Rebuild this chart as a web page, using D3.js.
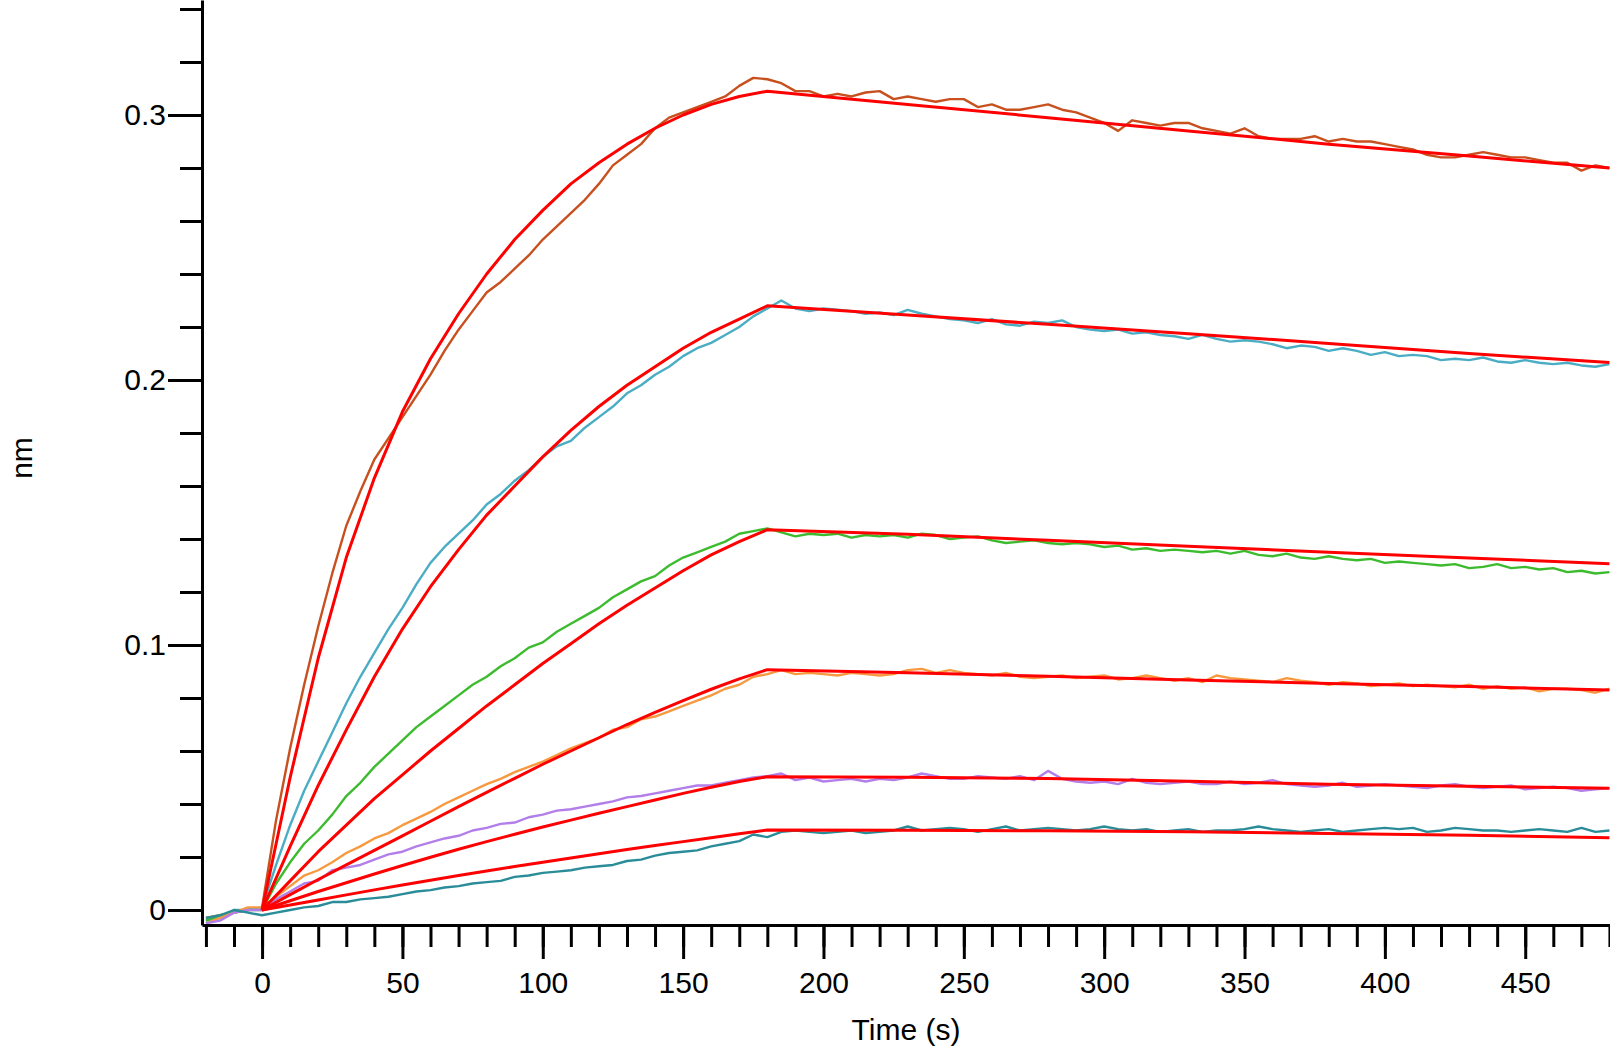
<!DOCTYPE html>
<html>
<head>
<meta charset="utf-8">
<script src="https://cdn.jsdelivr.net/npm/d3@7"></script>
<style>
  body { margin: 0; background: #fff; }
  svg { display: block; }
</style>
</head>
<body>
<div id="chart"></div>
<script>
// ============================================================
// DATA — sensorgram traces (nm) and 1:1 fits
// ============================================================
const dataTime = d3.range(-20, 481, 5);   // sampling times (s) for the raw traces
const fitTime = [0, 10, 20, 30, 40, 50, 60, 70, 80, 90, 100, 110, 120, 130, 140, 150, 160, 170, 180,
                 230, 280, 330, 380, 430, 480];

const xMajorTicks = [0, 50, 100, 150, 200, 250, 300, 350, 400, 450];
const yMajorTicks = [0, 0.1, 0.2, 0.3];

const seriesColors = ['#C8501E', '#4AADC4', '#3DBB2F', '#F7993F', '#B27EE9', '#2A8C98'];
const fitColor = '#FF0000';

const traceA = [-0.003, -0.002, -0.001, 0.000,
  0.001, 0.034, 0.061, 0.085, 0.107, 0.127, 0.145, 0.158, 0.170, 0.178,
  0.186, 0.194, 0.202, 0.211, 0.219, 0.226, 0.233, 0.237, 0.242, 0.247,
  0.253, 0.258, 0.263, 0.268, 0.274, 0.281, 0.285, 0.289, 0.295, 0.299,
  0.301, 0.303, 0.305, 0.307, 0.311, 0.314, 0.3135,
  0.312, 0.309, 0.309, 0.307, 0.308, 0.307, 0.3085, 0.309, 0.306, 0.307,
  0.306, 0.305, 0.306, 0.306, 0.303, 0.304, 0.302, 0.302, 0.303, 0.304,
  0.302, 0.301, 0.299, 0.297, 0.294, 0.298, 0.297, 0.296, 0.297, 0.297,
  0.295, 0.294, 0.293, 0.295, 0.292, 0.291, 0.291, 0.291, 0.292, 0.290,
  0.291, 0.290, 0.290, 0.289, 0.288, 0.287, 0.285, 0.284, 0.284, 0.285,
  0.286, 0.285, 0.284, 0.284, 0.283, 0.282, 0.282, 0.279, 0.281, 0.280];

const traceB = [-0.004, -0.003, 0.000, 0.000,
  0.001, 0.017, 0.032, 0.045, 0.056, 0.067, 0.078, 0.088, 0.097, 0.106,
  0.114, 0.123, 0.131, 0.137, 0.142, 0.147, 0.153, 0.157, 0.162, 0.166,
  0.171, 0.175, 0.177, 0.182, 0.186, 0.190, 0.195, 0.198, 0.202, 0.205,
  0.209, 0.212, 0.214, 0.217, 0.220, 0.224, 0.227,
  0.230, 0.227, 0.226, 0.227, 0.2265, 0.226, 0.225, 0.2255, 0.2245, 0.2265,
  0.225, 0.224, 0.223, 0.2225, 0.2215, 0.223, 0.221, 0.2205, 0.222, 0.2215,
  0.2225, 0.220, 0.219, 0.2185, 0.219, 0.2175, 0.218, 0.217, 0.2165, 0.2155,
  0.217, 0.2155, 0.2145, 0.215, 0.2145, 0.2135, 0.212, 0.213, 0.2125, 0.211,
  0.212, 0.211, 0.2095, 0.2105, 0.209, 0.2095, 0.209, 0.2075, 0.208, 0.2075,
  0.2085, 0.207, 0.2065, 0.2075, 0.2065, 0.206, 0.2065, 0.2055, 0.205, 0.206];

const traceC = [-0.004, -0.002, -0.001, 0.000,
  0.000, 0.010, 0.018, 0.025, 0.030, 0.036, 0.043, 0.048, 0.054, 0.059,
  0.064, 0.069, 0.073, 0.077, 0.081, 0.085, 0.088, 0.092, 0.095, 0.099,
  0.101, 0.105, 0.108, 0.111, 0.114, 0.118, 0.121, 0.124, 0.126, 0.130,
  0.133, 0.135, 0.137, 0.139, 0.142, 0.143, 0.144,
  0.1425, 0.141, 0.142, 0.1415, 0.142, 0.1405, 0.1415, 0.141, 0.1415, 0.1405,
  0.142, 0.1415, 0.140, 0.1405, 0.141, 0.1395, 0.1385, 0.139, 0.1395, 0.1385,
  0.138, 0.1385, 0.138, 0.137, 0.1375, 0.136, 0.1365, 0.1355, 0.136, 0.1355,
  0.135, 0.1355, 0.1345, 0.1355, 0.134, 0.1335, 0.1345, 0.133, 0.1325, 0.1335,
  0.1325, 0.132, 0.1325, 0.131, 0.1315, 0.131, 0.1305, 0.130, 0.1305, 0.129,
  0.1295, 0.1305, 0.129, 0.1295, 0.1285, 0.129, 0.1275, 0.128, 0.127, 0.1275];

const traceD = [-0.005, -0.003, -0.001, 0.001,
  0.001, 0.005, 0.009, 0.013, 0.015, 0.018, 0.0215, 0.024, 0.027, 0.029,
  0.032, 0.0345, 0.037, 0.040, 0.0425, 0.045, 0.0475, 0.0495, 0.052, 0.054,
  0.056, 0.0585, 0.061, 0.063, 0.065, 0.068, 0.069, 0.072, 0.073, 0.075,
  0.077, 0.079, 0.081, 0.0835, 0.085, 0.088, 0.089,
  0.0905, 0.089, 0.0895, 0.089, 0.0885, 0.0895, 0.089, 0.0885, 0.089, 0.0905,
  0.091, 0.0895, 0.0905, 0.0895, 0.089, 0.0885, 0.0895, 0.088, 0.0875, 0.088,
  0.0885, 0.0875, 0.088, 0.0885, 0.087, 0.0875, 0.0885, 0.0875, 0.0865, 0.0875,
  0.086, 0.0885, 0.0875, 0.087, 0.0865, 0.086, 0.0875, 0.0865, 0.086, 0.085,
  0.086, 0.0855, 0.0845, 0.085, 0.0855, 0.0845, 0.085, 0.0845, 0.084, 0.085,
  0.0835, 0.0845, 0.0835, 0.084, 0.0825, 0.0835, 0.0835, 0.083, 0.082, 0.0835];

const traceE = [-0.005, -0.004, -0.001, 0.000,
  0.000, 0.004, 0.007, 0.010, 0.011, 0.015, 0.016, 0.017, 0.019, 0.021,
  0.022, 0.024, 0.0255, 0.027, 0.028, 0.030, 0.031, 0.0325, 0.033, 0.035,
  0.036, 0.0375, 0.038, 0.039, 0.040, 0.041, 0.0425, 0.043, 0.044, 0.045,
  0.046, 0.047, 0.047, 0.048, 0.049, 0.050, 0.0505,
  0.0515, 0.049, 0.050, 0.0485, 0.049, 0.0495, 0.0485, 0.0495, 0.049, 0.050,
  0.0515, 0.0505, 0.0495, 0.0495, 0.0505, 0.050, 0.0495, 0.0505, 0.049, 0.0525,
  0.0495, 0.0485, 0.048, 0.0485, 0.0475, 0.0495, 0.048, 0.0475, 0.048, 0.0485,
  0.0475, 0.0475, 0.0485, 0.0475, 0.048, 0.049, 0.0475, 0.047, 0.0465, 0.047,
  0.048, 0.0465, 0.047, 0.0475, 0.047, 0.0465, 0.046, 0.047, 0.0475, 0.0465,
  0.046, 0.0465, 0.047, 0.0455, 0.046, 0.0465, 0.046, 0.045, 0.0455, 0.046];

const traceF = [-0.003, -0.002, 0.000, -0.001,
  -0.002, -0.001, 0.000, 0.001, 0.0015, 0.003, 0.003, 0.004, 0.0045, 0.005,
  0.006, 0.007, 0.0075, 0.0085, 0.009, 0.010, 0.0105, 0.011, 0.0125, 0.013,
  0.014, 0.0145, 0.015, 0.016, 0.0165, 0.017, 0.0185, 0.019, 0.0205, 0.0215,
  0.022, 0.0225, 0.024, 0.025, 0.026, 0.0285, 0.0275,
  0.0295, 0.030, 0.0295, 0.029, 0.0295, 0.030, 0.029, 0.0295, 0.030, 0.0315,
  0.030, 0.0305, 0.031, 0.0305, 0.0295, 0.0305, 0.0315, 0.030, 0.0305, 0.031,
  0.0305, 0.030, 0.0305, 0.0315, 0.0305, 0.030, 0.0305, 0.0295, 0.030, 0.0305,
  0.0295, 0.030, 0.030, 0.0305, 0.0315, 0.0305, 0.030, 0.0295, 0.030, 0.0305,
  0.0295, 0.030, 0.0305, 0.031, 0.0305, 0.031, 0.0295, 0.030, 0.031, 0.0305,
  0.030, 0.030, 0.0295, 0.030, 0.0305, 0.030, 0.0295, 0.031, 0.0295, 0.030];

const fitA = [0, 0.050, 0.095, 0.133, 0.163, 0.188, 0.208, 0.225, 0.240, 0.253, 0.264, 0.274, 0.282,
  0.289, 0.295, 0.300, 0.304, 0.307, 0.309, 0.304, 0.299, 0.294, 0.289, 0.2845, 0.280];
const fitB = [0, 0.024, 0.047, 0.068, 0.088, 0.106, 0.122, 0.136, 0.149, 0.160, 0.171, 0.181, 0.190,
  0.198, 0.205, 0.212, 0.218, 0.223, 0.228, 0.2245, 0.221, 0.2175, 0.2138, 0.210, 0.2066];
const fitC = [0, 0.011, 0.022, 0.032, 0.042, 0.051, 0.060, 0.0685, 0.077, 0.085, 0.093, 0.1005, 0.108,
  0.115, 0.1215, 0.128, 0.134, 0.139, 0.1435, 0.1418, 0.1395, 0.1373, 0.135, 0.1328, 0.1307];
const fitD = [0, 0.0058, 0.0115, 0.017, 0.0225, 0.028, 0.0335, 0.039, 0.0444, 0.0497, 0.055, 0.060, 0.065,
  0.070, 0.0746, 0.079, 0.0833, 0.0872, 0.0907, 0.0895, 0.0882, 0.0868, 0.0855, 0.0843, 0.083];
const fitE = [0, 0.0035, 0.007, 0.0103, 0.0136, 0.0168, 0.0199, 0.0229, 0.0258, 0.0286, 0.0313, 0.0339, 0.0365,
  0.039, 0.0415, 0.044, 0.0463, 0.0485, 0.0503, 0.0501, 0.0496, 0.0486, 0.0475, 0.0467, 0.0459];
const fitF = [0, 0.0019, 0.0038, 0.0057, 0.0076, 0.0094, 0.0112, 0.013, 0.0147, 0.0164, 0.018, 0.0196, 0.0212,
  0.0228, 0.0243, 0.0258, 0.0273, 0.0288, 0.0302, 0.0301, 0.0299, 0.0295, 0.0289, 0.0282, 0.0273];

const traces = [traceA, traceB, traceC, traceD, traceE, traceF];
const fits = [fitA, fitB, fitC, fitD, fitE, fitF];

// ============================================================
// CHART
// ============================================================
const svgW = 1610, svgH = 1050;
const plot = { left: 202, right: 1610, top: 0, bottom: 925 };
const font = 'Arial, "Liberation Sans", sans-serif';

const svg = d3.select('#chart').append('svg')
  .attr('width', svgW).attr('height', svgH);

const xScale = d3.scaleLinear()
  .domain([-21.4, 480.2])
  .range([plot.left, plot.right]);

const yScale = d3.scaleLinear()
  .domain([-0.00566, 0.3434])
  .range([plot.bottom, plot.top]);

svg.append('clipPath').attr('id', 'plot-clip')
  .append('rect')
  .attr('x', plot.left).attr('y', plot.top)
  .attr('width', plot.right - plot.left).attr('height', plot.bottom - plot.top);

// ---- RAW TRACES ----
const traceLine = d3.line()
  .x((d, i) => xScale(dataTime[i]))
  .y(d => yScale(d));

svg.append('g').attr('clip-path', 'url(#plot-clip)')
  .selectAll('path').data(traces).join('path')
  .attr('d', traceLine)
  .attr('fill', 'none')
  .attr('stroke', (d, i) => seriesColors[i])
  .attr('stroke-width', 2.4)
  .attr('stroke-linejoin', 'round');

// ---- FIT CURVES (red, on top) ----
const fitLine = d3.line()
  .x((d, i) => xScale(fitTime[i]))
  .y(d => yScale(d));

svg.append('g').attr('clip-path', 'url(#plot-clip)')
  .selectAll('path').data(fits).join('path')
  .attr('d', fitLine)
  .attr('fill', 'none')
  .attr('stroke', fitColor)
  .attr('stroke-width', 3)
  .attr('stroke-linejoin', 'round');

// ---- AXES ----
function styleAxis(g) {
  g.selectAll('line').attr('stroke', '#000').attr('stroke-width', 3);
  g.selectAll('path.domain').attr('stroke', '#000').attr('stroke-width', 3);
  g.selectAll('text')
    .style('font-family', font)
    .style('font-size', '30px')
    .attr('fill', '#000');
}

// x minor ticks every 10 s
svg.append('g')
  .attr('transform', `translate(0, ${plot.bottom})`)
  .call(d3.axisBottom(xScale).tickValues(d3.range(-20, 481, 10)).tickSize(22).tickFormat(''))
  .call(g => g.select('.domain').remove())
  .call(styleAxis);

// x major ticks + labels
svg.append('g')
  .attr('transform', `translate(0, ${plot.bottom})`)
  .call(d3.axisBottom(xScale).tickValues(xMajorTicks).tickSize(34).tickSizeOuter(0).tickPadding(13)
    .tickFormat(d3.format('d')))
  .call(styleAxis);

// y minor ticks every 0.02 nm
svg.append('g')
  .attr('transform', `translate(${plot.left}, 0)`)
  .call(d3.axisLeft(yScale).tickValues(d3.range(0, 0.345, 0.02)).tickSize(22).tickFormat(''))
  .call(g => g.select('.domain').remove())
  .call(styleAxis);

// y major ticks + labels
svg.append('g')
  .attr('transform', `translate(${plot.left}, 0)`)
  .call(d3.axisLeft(yScale).tickValues(yMajorTicks).tickSize(34).tickSizeOuter(0).tickPadding(2)
    .tickFormat(d3.format('~g')))
  .call(styleAxis);

// ---- AXIS TITLES ----
svg.append('text')
  .attr('x', (plot.left + plot.right) / 2)
  .attr('y', 1040)
  .attr('text-anchor', 'middle')
  .style('font-family', font).style('font-size', '30px')
  .text('Time (s)');

svg.append('text')
  .attr('transform', 'translate(32, 458) rotate(-90)')
  .attr('text-anchor', 'middle')
  .style('font-family', font).style('font-size', '30px')
  .text('nm');
</script>
</body>
</html>
